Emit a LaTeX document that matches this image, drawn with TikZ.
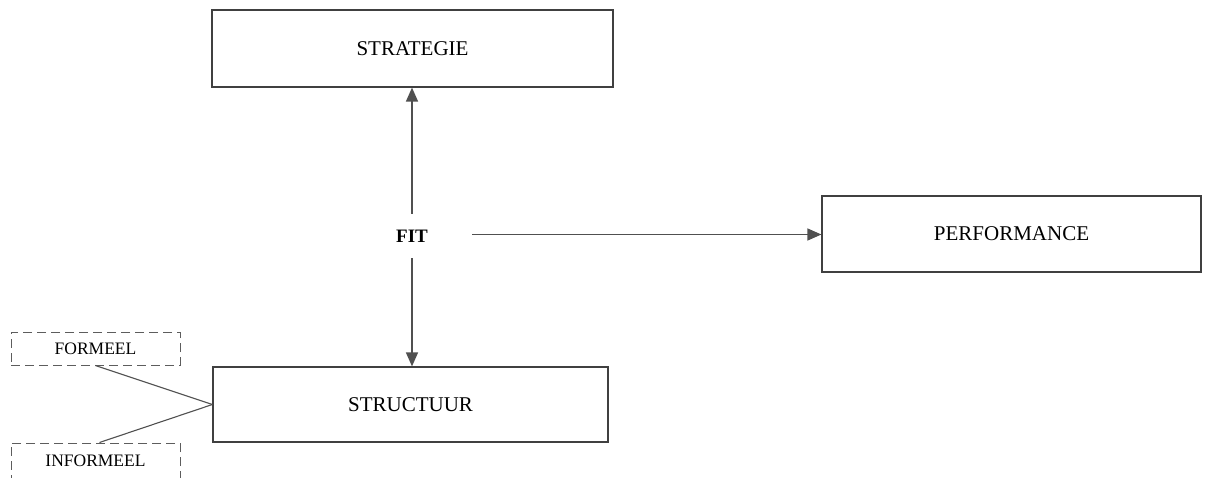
\documentclass[tikz,border=0pt]{standalone}
\usepackage{fontspec}
\setmainfont{Liberation Serif}
\usetikzlibrary{arrows.meta}
\definecolor{edge}{HTML}{404040}
\definecolor{wire}{HTML}{505050}
\begin{document}
\begin{tikzpicture}[x=1pt,y=-1pt,
  mainbox/.style={draw=edge,line width=1.2pt,rectangle,inner sep=0pt,
    font=\fontsize{21}{25}\selectfont},
  dashbox/.style={draw=edge!85,line width=1pt,rectangle,inner sep=0pt,
    dash pattern=on 9pt off 5pt,font=\fontsize{17.5}{20}\selectfont,
    minimum width=169pt},
  link/.style={draw=wire,line width=1.4pt},
  arrowlink/.style={link,-{Triangle[length=14pt,width=12pt]}}]
  \useasboundingbox (0,0) rectangle (1211,477);
  % main boxes
  \node[mainbox,minimum width=401pt,minimum height=77pt] (strat) at (412.5,48.5) {STRATEGIE};
  \node[mainbox,minimum width=379pt,minimum height=76pt] (perf) at (1011.5,234) {PERFORMANCE};
  \node[mainbox,minimum width=395pt,minimum height=75pt] (struc) at (410.5,404.5) {STRUCTUUR};
  % the fit between strategy and structure
  \node[minimum width=120pt,minimum height=44pt,inner sep=0pt,
    font=\fontsize{19}{22}\selectfont\bfseries] (fit) at (412,236) {FIT};
  % dashed sub-aspects of structure
  \node[dashbox,minimum height=33pt] (formeel) at (95.5,348.5) {FORMEEL};
  \node[dashbox,minimum height=36pt] (informeel) at (95.5,461) {INFORMEEL};
  % connectors
  \draw[arrowlink] (fit.north) -- (fit.north |- strat.south);
  \draw[arrowlink] (fit.south) -- (fit.south |- struc.north);
  \draw[arrowlink] ([yshift=1.5pt]fit.east) -- ([yshift=1.5pt]fit.east -| perf.west);
  \draw[link,line width=1.1pt] (formeel.south) -- (struc.west);
  \draw[link,line width=1.1pt] ([xshift=4pt]informeel.north) -- (struc.west);
\end{tikzpicture}
\end{document}
